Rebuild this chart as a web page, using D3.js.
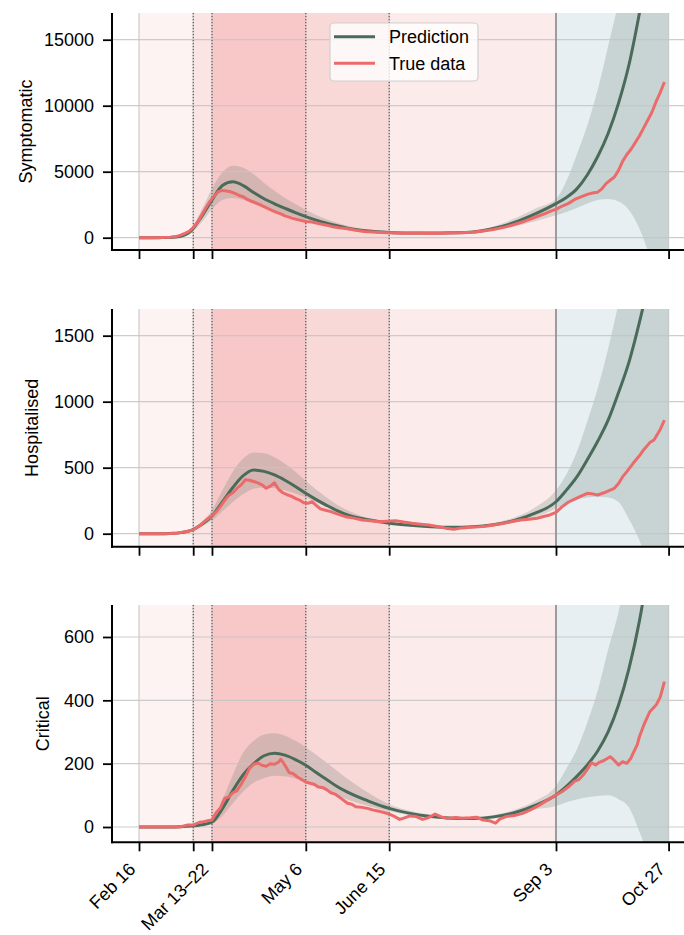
<!DOCTYPE html>
<html>
<head>
<meta charset="utf-8">
<script src="https://cdn.jsdelivr.net/npm/d3@7"></script>
<style>
  html, body { margin: 0; padding: 0; background: #ffffff; }
  svg { display: block; }
  text { font-family: "Liberation Sans", Arial, Helvetica, sans-serif; fill: #000; }
</style>
</head>
<body>
<svg id="chart" width="684" height="935"></svg>
<script>
// ---------------- DATA ----------------
// x values are days since Feb 16
const tickDays   = [0, 26, 35, 80, 120, 200, 254];
const tickLabels = ["Feb 16", "", "Mar 13\u201322", "May 6", "June 15", "Sep 3", "Oct 27"];

const phaseStart  = [0, 26, 35, 80, 120, 200];
const phaseEnd    = [26, 35, 80, 120, 200, 254];
const phaseColors = ["#fdf3f3", "#fbe4e4", "#f8c8c8", "#f9d8d8", "#fcebeb", "#e7eff2"];
const dottedDays  = [26, 35, 80, 120];
const forecastDay = 200;

const seriesNames = ["Prediction", "True data"];

const predDays = [0,5,10,15,20,25,30,35,40,45,50,55,60,65,70,75,80,85,90,95,100,110,120,130,140,150,160,170,180,190,200,205,210,215,220,225,230,235,240,245,250,254];

// Symptomatic
const symPred = [0,0,5,20,110,520,1600,2850,3950,4230,3950,3420,2950,2570,2230,1900,1600,1330,1100,900,720,500,400,360,350,370,430,700,1150,1800,2580,3050,3700,4750,6150,7900,10200,13100,17000,21500,27000,32000];
const symLo   = [0,0,3,12,75,380,1150,2150,2850,3000,2850,2550,2250,2000,1780,1560,1350,1140,950,790,640,450,350,310,300,320,370,560,850,1250,1700,1950,2250,2600,2850,2930,2750,2100,700,-1500,-4500,-7500];
const symHi   = [0,0,8,30,160,700,2100,3700,4950,5450,5300,4800,4150,3550,3000,2550,2100,1720,1400,1130,900,620,470,420,410,440,520,850,1450,2200,2950,4300,6300,8500,11200,14500,18000,23000,29000,36000,45000,53000];
const symTrueDays = [0,5,10,15,18,20,22,24,26,28,30,32,34,36,38,40,42,44,46,48,50,52,54,56,58,60,62,64,66,68,70,72,74,76,78,80,83,86,90,93,96,100,104,108,112,116,120,125,130,135,140,145,150,155,160,165,170,175,180,185,190,195,198,200,203,206,209,212,215,218,220,222,224,226,228,230,232,234,236,238,240,242,244,246,248,250,252];
const symTrue     = [0,0,10,40,100,200,330,480,760,1150,1700,2250,2750,3150,3480,3580,3540,3480,3350,3200,3100,2900,2760,2640,2500,2350,2200,2060,1920,1800,1650,1560,1450,1380,1300,1230,1190,1080,950,830,750,680,560,470,430,400,380,340,330,330,320,330,350,380,420,500,620,780,1000,1250,1550,1850,2050,2150,2400,2600,2900,3100,3280,3400,3450,3700,4100,4350,4600,5100,5800,6300,6700,7200,7700,8300,8900,9500,10300,11000,11800];

// Hospitalised
const hosPred = [0,0,0,2,8,25,70,135,240,350,440,483,472,445,405,358,306,258,215,175,142,105,79,63,53,48,52,68,100,155,242,330,430,560,700,860,1070,1300,1600,1950,2350,2700];
const hosLo   = [0,0,0,1,6,20,55,100,170,240,300,340,350,345,330,305,275,240,200,165,135,98,73,57,48,43,46,58,85,125,190,230,260,275,280,275,240,110,-50,-300,-600,-900];
const hosHi   = [0,0,0,3,10,32,90,180,330,470,570,615,610,580,530,470,400,335,275,220,178,118,88,70,60,55,60,80,122,200,330,450,620,850,1100,1400,1750,2150,2600,3100,3700,4200];
const hosTrueDays = [0,10,15,18,21,24,26,29,32,35,37,39,41,43,45,47,49,51,53,55,57,59,61,63,65,67,69,71,73,75,77,79,81,83,85,87,89,92,95,99,103,107,111,115,119,123,127,131,135,139,143,147,151,155,159,163,167,171,175,179,183,187,191,194,197,200,203,206,209,212,215,218,220,223,226,228,230,232,234,237,240,242,245,247,250,252];
const hosTrue     = [0,0,1,4,12,20,28,58,100,138,165,205,250,290,310,345,370,408,405,395,385,370,344,360,386,335,310,295,285,268,255,235,230,242,215,188,180,167,150,129,118,104,98,91,95,99,88,79,72,66,55,42,33,44,48,52,58,68,79,92,104,110,117,130,142,162,205,240,262,285,306,300,293,310,330,344,380,432,470,533,590,634,690,710,790,861];

// Critical
const criPred = [0,0,0,0,1,3,7,15,58,115,165,200,225,233,227,213,195,172,150,128,110,82,59,43,33,28,27,32,45,68,101,128,160,196,240,300,385,500,650,850,1100,1350];
const criLo   = [0,0,0,0,0,2,5,10,35,75,112,140,155,162,160,152,140,127,113,99,87,66,50,37,29,24,23,27,38,55,66,78,87,94,98,100,88,62,-15,-100,-200,-280];
const criHi   = [0,0,0,0,2,5,11,22,85,165,235,272,292,296,288,272,252,228,203,178,152,108,72,51,39,33,32,38,54,82,130,185,245,330,430,560,680,850,1050,1300,1600,1900];
const criTrueDays = [0,10,18,20,23,26,29,31,33,35,37,39,41,43,45,47,49,51,53,55,57,59,61,63,65,67,68,70,72,74,76,78,80,82,84,86,88,90,92,94,96,98,100,102,104,107,110,112,115,118,120,122,125,127,130,133,136,139,142,145,148,152,155,159,162,165,168,171,173,176,180,184,188,192,196,200,203,206,209,211,213,215,217,219,221,223,226,228,230,232,234,236,237,239,240,242,245,248,250,252];
const criTrue     = [0,0,0,1,6,6,15,17,20,22,45,60,90,95,108,115,135,158,185,198,202,195,192,200,198,205,214,195,172,168,158,150,142,138,135,126,125,118,108,104,95,85,75,72,64,62,58,54,50,45,41,35,24,28,35,33,24,30,41,32,27,30,28,29,31,22,20,12,25,33,36,43,55,69,85,101,112,127,145,150,164,182,203,196,205,210,222,210,196,206,201,218,233,260,285,320,364,385,410,459];

const panelLabels = ["Symptomatic", "Hospitalised", "Critical"];
const yTickValues = [[0,5000,10000,15000],[0,500,1000,1500],[0,200,400,600]];
const yLimits     = [[-932,17023],[-98.5,1702],[-48.3,701]];

// ---------------- LAYOUT ----------------
const plotLeft = 112, plotRight = 695;
const panelTops = [13, 309, 605];
const panelBottoms = [250, 546.7, 842.3];
const labelX = [32, 38, 49];
const FONT = 18;

const COL_PRED = "#4a6a5a";
const COL_TRUE = "#eb6b6b";

const svg = d3.select("#chart");
const x = d3.scaleLinear().domain([-12.95, 266.67]).range([plotLeft, plotRight]);

const panels = [
  {pred: symPred, lo: symLo, hi: symHi, tdays: symTrueDays, tvals: symTrue},
  {pred: hosPred, lo: hosLo, hi: hosHi, tdays: hosTrueDays, tvals: hosTrue},
  {pred: criPred, lo: criLo, hi: criHi, tdays: criTrueDays, tvals: criTrue}
];

panels.forEach((p, i) => {
  const top = panelTops[i], bottom = panelBottoms[i];
  const y = d3.scaleLinear().domain(yLimits[i]).range([bottom, top]);
  const g = svg.append("g");

  const clipId = "clip" + i;
  svg.append("clipPath").attr("id", clipId)
    .append("rect").attr("x", plotLeft).attr("y", top)
    .attr("width", plotRight - plotLeft).attr("height", bottom - top);
  const inner = g.append("g").attr("clip-path", `url(#${clipId})`);

  // phase shading
  inner.selectAll("rect.phase").data(phaseStart).join("rect")
    .attr("class", "phase")
    .attr("x", (d) => x(d))
    .attr("width", (d, k) => x(phaseEnd[k]) - x(d))
    .attr("y", top).attr("height", bottom - top)
    .attr("fill", (d, k) => phaseColors[k]);

  // prediction band
  const pts = predDays.map((d, k) => ({d, lo: p.lo[k], hi: p.hi[k], v: p.pred[k]}));
  const area = d3.area().x(a => x(a.d)).y0(a => y(a.lo)).y1(a => y(a.hi)).curve(d3.curveMonotoneX);
  inner.append("path").datum(pts).attr("d", area)
    .attr("fill", COL_PRED).attr("fill-opacity", 0.2);

  // grid
  inner.selectAll("line.hgrid").data(yTickValues[i]).join("line")
    .attr("x1", plotLeft).attr("x2", plotRight)
    .attr("y1", d => y(d)).attr("y2", d => y(d))
    .attr("stroke", "#c4c4c4").attr("stroke-width", 1.2).attr("stroke-opacity", 0.85);
  inner.selectAll("line.vgrid").data(tickDays).join("line")
    .attr("x1", d => x(d)).attr("x2", d => x(d))
    .attr("y1", top).attr("y2", bottom)
    .attr("stroke", "#c4c4c4").attr("stroke-width", 1.2).attr("stroke-opacity", 0.85);

  // phase boundary lines
  inner.selectAll("line.dot").data(dottedDays).join("line")
    .attr("x1", d => x(d)).attr("x2", d => x(d))
    .attr("y1", top).attr("y2", bottom)
    .attr("stroke", "#444").attr("stroke-width", 1).attr("stroke-dasharray", "1.2,1.8");
  inner.append("line")
    .attr("x1", x(forecastDay)).attr("x2", x(forecastDay))
    .attr("y1", top).attr("y2", bottom)
    .attr("stroke", "#888").attr("stroke-width", 1.5);

  // prediction line
  const line = d3.line().x(a => x(a.d)).y(a => y(a.v)).curve(d3.curveMonotoneX);
  inner.append("path").datum(pts).attr("d", line)
    .attr("fill", "none").attr("stroke", COL_PRED).attr("stroke-width", 3);

  // true data
  const tpts = p.tdays.map((d, k) => ({d, v: p.tvals[k]}));
  const tline = d3.line().x(a => x(a.d)).y(a => y(a.v));
  inner.append("path").datum(tpts).attr("d", tline)
    .attr("fill", "none").attr("stroke", COL_TRUE).attr("stroke-width", 3)
    .attr("stroke-linejoin", "round");

  // y axis
  const yAxis = d3.axisLeft(y).tickValues(yTickValues[i]).tickFormat(d3.format("d"))
    .tickSize(9).tickPadding(9).tickSizeOuter(0);
  const ya = g.append("g").attr("transform", `translate(${plotLeft},0)`).call(yAxis);
  ya.select(".domain").remove();
  ya.selectAll(".tick line").attr("stroke", "#000").attr("stroke-width", 1.8);
  ya.selectAll(".tick text").attr("font-size", FONT).attr("fill", "#000")
    .attr("font-family", "'Liberation Sans', Arial, Helvetica, sans-serif");

  // x axis
  const xAxis = d3.axisBottom(x).tickValues(tickDays)
    .tickFormat((d, k) => i === 2 ? tickLabels[k] : "")
    .tickSize(9).tickSizeOuter(0);
  const xa = g.append("g").attr("transform", `translate(0,${bottom})`).call(xAxis);
  xa.select(".domain").remove();
  xa.selectAll(".tick line").attr("stroke", "#000").attr("stroke-width", 1.8);
  if (i === 2) {
    xa.selectAll(".tick text")
      .attr("font-size", FONT).attr("fill", "#000")
      .attr("font-family", "'Liberation Sans', Arial, Helvetica, sans-serif")
      .attr("text-anchor", "end")
      .attr("dy", 0).attr("y", 0)
      .attr("transform", "translate(-3,28) rotate(-45)");
  } else {
    xa.selectAll(".tick text").remove();
  }

  // spines
  g.append("line").attr("x1", plotLeft).attr("x2", plotLeft)
    .attr("y1", top).attr("y2", bottom + 1)
    .attr("stroke", "#000").attr("stroke-width", 2);
  g.append("line").attr("x1", plotLeft - 1).attr("x2", plotRight)
    .attr("y1", bottom).attr("y2", bottom)
    .attr("stroke", "#000").attr("stroke-width", 2);

  // y label
  g.append("text")
    .attr("transform", `translate(${labelX[i]},${(top + bottom) / 2}) rotate(-90)`)
    .attr("text-anchor", "middle")
    .attr("font-size", FONT)
    .text(panelLabels[i]);

  // legend
  if (i === 0) {
    const lg = g.append("g");
    lg.append("rect").attr("x", 330).attr("y", 23).attr("width", 148).attr("height", 58)
      .attr("rx", 4).attr("fill", "#ffffff").attr("fill-opacity", 0.8)
      .attr("stroke", "#d0d0d0").attr("stroke-width", 1.2);
    const cols = [COL_PRED, COL_TRUE];
    seriesNames.forEach((nm, k) => {
      const yy = 36.7 + k * 26.6;
      lg.append("line").attr("x1", 334).attr("x2", 375).attr("y1", yy).attr("y2", yy)
        .attr("stroke", cols[k]).attr("stroke-width", 3);
      lg.append("text").attr("x", 389).attr("y", yy).attr("dy", "0.35em")
        .attr("font-size", FONT).text(nm);
    });
  }
});
</script>
</body>
</html>
